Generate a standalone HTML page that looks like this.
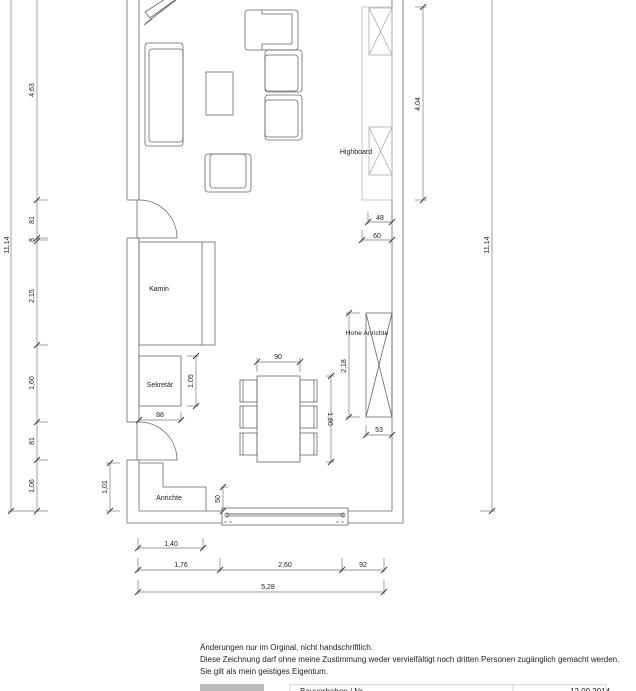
<!DOCTYPE html>
<html><head><meta charset="utf-8"><style>
html,body{margin:0;padding:0;background:#fff;width:636px;height:691px;overflow:hidden}
svg{display:block}
text{font-family:"Liberation Sans",sans-serif;font-size:7px;fill:#222}
</style></head><body>
<svg width="636" height="691" viewBox="0 0 636 691" xmlns="http://www.w3.org/2000/svg">
<defs>
<g id="tk"><line x1="-3" y1="3" x2="3" y2="-3" stroke="#333" stroke-width="0.9"/></g>
</defs>
<g fill="none" stroke="#666" stroke-width="0.8">
<line x1="127" y1="0" x2="127" y2="200"/><line x1="139" y1="0" x2="139" y2="200"/>
<line x1="127" y1="200" x2="139" y2="200"/><line x1="127" y1="238" x2="139" y2="238"/>
<line x1="127" y1="238" x2="127" y2="422"/><line x1="139" y1="238" x2="139" y2="422"/>
<line x1="127" y1="422" x2="139" y2="422"/><line x1="127" y1="460" x2="139" y2="460"/>
<line x1="127" y1="460" x2="127" y2="523"/><line x1="139" y1="460" x2="139" y2="511"/>
<line x1="127" y1="523" x2="222" y2="523"/><line x1="139" y1="511" x2="222" y2="511"/>
<line x1="348" y1="523" x2="403" y2="523"/><line x1="348" y1="511" x2="392" y2="511"/>
<line x1="392" y1="0" x2="392" y2="511"/><line x1="403" y1="0" x2="403" y2="523"/>
<rect x="222" y="508" width="126" height="17"/>
<line x1="226" y1="514" x2="344" y2="514" stroke-width="1.4" stroke="#999"/>
<line x1="226" y1="516" x2="344" y2="516"/>
<circle cx="227" cy="515" r="2"/><circle cx="343" cy="515" r="2"/>
<line x1="224" y1="522" x2="232" y2="522" stroke-dasharray="3,2"/>
<line x1="336" y1="522" x2="346" y2="522" stroke-dasharray="3,2"/>
<line x1="137" y1="200" x2="137" y2="238"/><path d="M139 200 A38 38 0 0 1 177 238 L139 238"/>
<line x1="137" y1="422" x2="137" y2="460"/><path d="M139 422 A38 38 0 0 1 177 460 L139 460"/>
<rect x="139" y="242" width="76" height="103"/><line x1="202" y1="242" x2="202" y2="345"/>
<rect x="139" y="356" width="42" height="50"/>
<path d="M139 463 H163 V487 H206 V511"/>
<rect x="257" y="376" width="43" height="86"/>
<rect x="240" y="380" width="17" height="22"/><rect x="240" y="406" width="17" height="22"/><rect x="240" y="433" width="17" height="22"/>
<rect x="300" y="380" width="17" height="22"/><rect x="300" y="406" width="17" height="22"/><rect x="300" y="433" width="17" height="22"/>
<line x1="243" y1="380" x2="243" y2="402"/><line x1="243" y1="406" x2="243" y2="428"/><line x1="243" y1="433" x2="243" y2="455"/>
<line x1="314" y1="380" x2="314" y2="402"/><line x1="314" y1="406" x2="314" y2="428"/><line x1="314" y1="433" x2="314" y2="455"/>
<rect x="366" y="313" width="26" height="104"/><path d="M366 313 L392 417 M392 313 L366 417"/>
<rect x="362" y="7" width="30" height="193" stroke="#bbb"/>
<rect x="369" y="8" width="23" height="47" stroke="#aaa"/><path d="M369 8 L392 55 M392 8 L369 55" stroke="#aaa"/>
<rect x="369" y="127" width="23" height="48" stroke="#aaa"/><path d="M369 127 L392 175 M392 127 L369 175" stroke="#aaa"/>
<path d="M145 12 L170 -4 M150 18 L175 0 M145 12 L150 18 M144 25 L152 19 M146 23 L176 0"/>
<rect x="145" y="43" width="38" height="103" rx="3"/><rect x="149" y="49" width="34" height="93" rx="3"/>
<rect x="206" y="72" width="27" height="43"/>
<rect x="245" y="10" width="53" height="40" rx="3"/><path d="M262 10 v4 h30 v30 h-30 v6"/>
<rect x="265" y="50" width="37" height="42" rx="3"/><rect x="265" y="55" width="33" height="36" rx="3"/>
<rect x="265" y="95" width="37" height="45" rx="3"/><rect x="265" y="100" width="33" height="37" rx="3"/>
<rect x="205" y="154" width="46" height="38" rx="3"/><rect x="210" y="154" width="36" height="34" rx="3"/>
</g>
<g fill="none" stroke="#777" stroke-width="0.7">
<line x1="11" y1="0" x2="11" y2="511"/><line x1="37" y1="0" x2="37" y2="511"/>
<line x1="37" y1="200" x2="48" y2="200"/><line x1="37" y1="238" x2="48" y2="238"/><line x1="37" y1="240" x2="48" y2="240"/>
<line x1="37" y1="345" x2="48" y2="345"/><line x1="37" y1="422" x2="48" y2="422"/><line x1="37" y1="460" x2="48" y2="460"/>
<line x1="8" y1="511" x2="48" y2="511"/>
<line x1="423" y1="7" x2="423" y2="200"/><line x1="415" y1="7" x2="427" y2="7"/><line x1="415" y1="200" x2="427" y2="200"/>
<line x1="492" y1="0" x2="492" y2="511"/><line x1="480" y1="511" x2="495" y2="511"/>
<line x1="110" y1="463" x2="110" y2="511"/><line x1="106" y1="463" x2="120" y2="463"/><line x1="106" y1="511" x2="120" y2="511"/>
<line x1="223" y1="487" x2="223" y2="511"/><line x1="221" y1="487" x2="228" y2="487"/>
<line x1="196" y1="356" x2="196" y2="406"/><line x1="187" y1="356" x2="199" y2="356"/><line x1="187" y1="406" x2="199" y2="406"/>
<line x1="139" y1="420" x2="181" y2="420"/><line x1="181" y1="412" x2="181" y2="422"/>
<line x1="257" y1="362" x2="300" y2="362"/><line x1="257" y1="358" x2="257" y2="372"/><line x1="300" y1="358" x2="300" y2="372"/>
<line x1="331" y1="376" x2="331" y2="462"/><line x1="326" y1="376" x2="334" y2="376"/><line x1="326" y1="462" x2="334" y2="462"/>
<line x1="349" y1="313" x2="349" y2="417"/><line x1="346" y1="313" x2="360" y2="313"/><line x1="346" y1="417" x2="360" y2="417"/>
<line x1="366" y1="435" x2="392" y2="435"/><line x1="366" y1="425" x2="366" y2="437"/>
<line x1="368" y1="222" x2="392" y2="222"/><line x1="368" y1="212" x2="368" y2="224"/>
<line x1="362" y1="240" x2="392" y2="240"/><line x1="362" y1="230" x2="362" y2="242"/>
<line x1="138" y1="548" x2="203" y2="548"/><line x1="138" y1="538" x2="138" y2="550"/><line x1="203" y1="538" x2="203" y2="550"/>
<line x1="138" y1="570" x2="384" y2="570"/>
<line x1="138" y1="558" x2="138" y2="572"/><line x1="220" y1="558" x2="220" y2="572"/><line x1="342" y1="558" x2="342" y2="572"/><line x1="384" y1="558" x2="384" y2="572"/>
<line x1="138" y1="592" x2="384" y2="592"/><line x1="138" y1="580" x2="138" y2="594"/><line x1="384" y1="580" x2="384" y2="594"/>
</g>
<g>
<use href="#tk" x="37" y="200"/><use href="#tk" x="37" y="238"/><use href="#tk" x="37" y="241"/><use href="#tk" x="37" y="345"/>
<use href="#tk" x="37" y="422"/><use href="#tk" x="37" y="460"/><use href="#tk" x="37" y="511"/><use href="#tk" x="11" y="511"/>
<use href="#tk" x="423" y="7"/><use href="#tk" x="423" y="200"/><use href="#tk" x="492" y="511"/>
<use href="#tk" x="110" y="463"/><use href="#tk" x="110" y="511"/><use href="#tk" x="223" y="487"/><use href="#tk" x="223" y="511"/>
<use href="#tk" x="196" y="356"/><use href="#tk" x="196" y="406"/><use href="#tk" x="139" y="420"/><use href="#tk" x="181" y="420"/>
<use href="#tk" x="257" y="362"/><use href="#tk" x="300" y="362"/><use href="#tk" x="331" y="376"/><use href="#tk" x="331" y="462"/>
<use href="#tk" x="349" y="313"/><use href="#tk" x="349" y="417"/><use href="#tk" x="366" y="435"/><use href="#tk" x="392" y="435"/>
<use href="#tk" x="368" y="222"/><use href="#tk" x="392" y="222"/><use href="#tk" x="362" y="240"/><use href="#tk" x="392" y="240"/>
<use href="#tk" x="138" y="548"/><use href="#tk" x="203" y="548"/>
<use href="#tk" x="138" y="570"/><use href="#tk" x="220" y="570"/><use href="#tk" x="342" y="570"/><use href="#tk" x="384" y="570"/>
<use href="#tk" x="138" y="592"/><use href="#tk" x="384" y="592"/>
</g>
<g text-anchor="middle">
<text transform="translate(34,90) rotate(-90)">4,63</text>
<text transform="translate(34,220) rotate(-90)">81</text>
<text transform="translate(34,240) rotate(-90)">8</text>
<text transform="translate(34,296) rotate(-90)">2,15</text>
<text transform="translate(34,383) rotate(-90)">1,60</text>
<text transform="translate(34,441) rotate(-90)">81</text>
<text transform="translate(34,486) rotate(-90)">1,06</text>
<text transform="translate(9,245) rotate(-90)">11,14</text>
<text transform="translate(420,104) rotate(-90)">4,04</text>
<text transform="translate(489,245) rotate(-90)">11,14</text>
<text transform="translate(107,487) rotate(-90)">1,01</text>
<text transform="translate(220,499) rotate(-90)">50</text>
<text transform="translate(193,381) rotate(-90)">1,05</text>
<text transform="translate(328,419) rotate(90)">1,80</text>
<text transform="translate(346,366) rotate(-90)">2,18</text>
<text x="160" y="417">88</text>
<text x="278" y="359">90</text>
<text x="379" y="432">53</text>
<text x="380" y="220">48</text>
<text x="377" y="238">60</text>
<text x="171" y="546">1,40</text>
<text x="181" y="567">1,76</text>
<text x="285" y="567">2,60</text>
<text x="363" y="567">92</text>
<text x="268" y="589">5,28</text>
<text x="159" y="291">Kamin</text>
<text x="160" y="387">Sekretär</text>
<text x="169" y="500">Anrichte</text>
<text x="367" y="335" style="font-size:6.8px">Hohe Anrichte</text>
<text x="356" y="154">Highboard</text>
</g>
<text x="200" y="650" style="font-size:8px">Änderungen nur im Orginal, nicht handschriftlich.</text>
<text x="200" y="662" style="font-size:8px">Diese Zeichnung darf ohne meine Zustimmung weder vervielfältigt noch dritten Personen zugänglich gemacht werden.</text>
<text x="200" y="674" style="font-size:8px">Sie gilt als mein geistiges Eigentum.</text>
<rect x="200" y="684" width="64" height="8" fill="#bbb"/>
<line x1="290" y1="684.5" x2="606" y2="684.5" stroke="#ccc" stroke-width="0.8"/>
<line x1="290" y1="684" x2="290" y2="691" stroke="#ccc" stroke-width="0.8"/>
<line x1="606" y1="684" x2="606" y2="691" stroke="#ccc" stroke-width="0.8"/>
<line x1="513" y1="684" x2="513" y2="691" stroke="#ccc" stroke-width="0.8"/>
<text x="300" y="694" style="font-size:8px">Bauvorhaben / Nr.</text>
<text x="570" y="694" style="font-size:8px">12.09.2014</text>
</svg>
</body></html>
